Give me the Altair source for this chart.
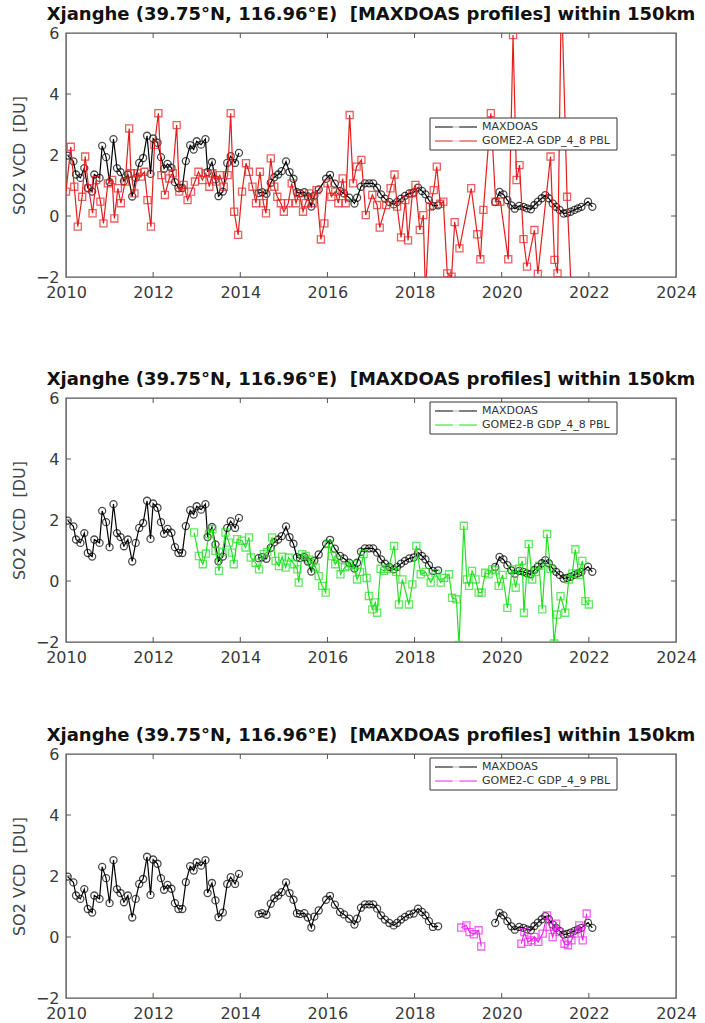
import altair as alt
import pandas as pd

TITLE = "Xjanghe (39.75°N, 116.96°E)\u00a0\u00a0[MAXDOAS profiles] within 150km"
Y_TITLE = "SO2 VCD\u00a0\u00a0[DU]"
X_TICKS = [2010, 2012, 2014, 2016, 2018, 2020, 2022, 2024]
Y_TICKS = [-2, 0, 2, 4, 6]
LEG_MAX = "MAXDOAS"
LEG_A = "GOME2-A GDP_4_8 PBL"
LEG_B = "GOME2-B GDP_4_8 PBL"
LEG_C = "GOME2-C GDP_4_9 PBL"

# MAXDOAS monthly SO2 VCD (decimal year, DU)
MAX_T = [2010.04, 2010.17, 2010.23, 2010.33, 2010.42, 2010.50, 2010.60, 2010.65, 2010.77, 2010.83,
         2010.92, 2011.00, 2011.09, 2011.17, 2011.25, 2011.33, 2011.42, 2011.52, 2011.60, 2011.68,
         2011.77, 2011.86, 2011.94, 2012.00, 2012.10, 2012.18, 2012.25, 2012.33, 2012.42, 2012.50,
         2012.58, 2012.67, 2012.75, 2012.85, 2012.93, 2013.00, 2013.10, 2013.20, 2013.25, 2013.35,
         2013.43, 2013.50, 2013.60, 2013.70, 2013.78, 2013.88, 2013.97,
         2014.42, 2014.50, 2014.60, 2014.70, 2014.78, 2014.87, 2014.95, 2015.05, 2015.13, 2015.22,
         2015.30, 2015.37, 2015.47, 2015.55, 2015.63, 2015.70, 2015.80, 2015.97, 2016.06, 2016.17,
         2016.29, 2016.38, 2016.50, 2016.62, 2016.68, 2016.77, 2016.86, 2016.96, 2017.05, 2017.14,
         2017.23, 2017.32, 2017.42, 2017.52, 2017.60, 2017.69, 2017.78, 2017.88, 2017.98, 2018.08,
         2018.17, 2018.25, 2018.33, 2018.42, 2018.54,
         2019.85, 2019.95, 2020.04, 2020.13, 2020.22, 2020.30, 2020.40, 2020.50, 2020.58, 2020.67,
         2020.75, 2020.83, 2020.92, 2021.00, 2021.08, 2021.17, 2021.25, 2021.33, 2021.42, 2021.50,
         2021.58, 2021.67, 2021.75, 2021.83, 2021.98, 2022.08]
MAX_V = [1.98, 1.79, 1.36, 1.25, 1.57, 0.92, 0.80, 1.36, 1.25, 2.30,
         1.93, 1.11, 2.52, 1.57, 1.44, 1.14, 1.36, 0.64, 1.25, 1.74,
         1.90, 2.63, 1.38, 2.54, 2.40, 1.93, 1.55, 1.71, 1.58, 1.11,
         0.92, 0.92, 1.80, 2.32, 2.18, 2.45, 2.34, 2.52, 1.44, 1.77,
         1.20, 0.65, 0.80, 1.74, 1.96, 1.74, 2.07,
         0.75, 0.78, 0.73, 1.09, 1.27, 1.36, 1.47, 1.79, 1.44, 1.22,
         0.78, 0.75, 0.78, 0.64, 0.31, 0.67, 0.87, 1.22, 1.35, 1.06,
         0.82, 0.74, 0.60, 0.41, 0.60, 0.96, 1.07, 1.07, 1.07, 0.93,
         0.71, 0.57, 0.46, 0.38, 0.46, 0.57, 0.66, 0.74, 0.77, 0.93,
         0.82, 0.71, 0.52, 0.33, 0.35,
         0.46, 0.79, 0.71, 0.52, 0.35, 0.24, 0.33, 0.30, 0.25, 0.22,
         0.36, 0.47, 0.58, 0.68, 0.58, 0.41, 0.30, 0.20, 0.08, 0.10,
         0.14, 0.20, 0.25, 0.30, 0.47, 0.30]

# GOME2-A GDP_4_8 PBL
A_T = [2010.00, 2010.11, 2010.19, 2010.27, 2010.37, 2010.44, 2010.52, 2010.61, 2010.69, 2010.79,
       2010.86, 2010.96, 2011.06, 2011.11, 2011.19, 2011.26, 2011.36, 2011.45, 2011.49, 2011.57,
       2011.64, 2011.72, 2011.80, 2011.87, 2011.95, 2012.03, 2012.12, 2012.19, 2012.27, 2012.37,
       2012.45, 2012.54, 2012.60, 2012.70, 2012.79, 2012.87, 2012.96, 2013.04, 2013.13, 2013.21,
       2013.29, 2013.36, 2013.44, 2013.53, 2013.62, 2013.71, 2013.78, 2013.86, 2013.95, 2014.04,
       2014.13, 2014.20, 2014.28, 2014.36, 2014.45, 2014.53, 2014.59, 2014.70, 2014.78, 2014.85,
       2014.93, 2015.00, 2015.10, 2015.18, 2015.28, 2015.35, 2015.44, 2015.50, 2015.58, 2015.66,
       2015.75, 2015.85, 2015.93, 2016.00, 2016.09, 2016.18, 2016.25, 2016.35, 2016.42, 2016.51,
       2016.59, 2016.67, 2016.78, 2016.88, 2017.03, 2017.14, 2017.20, 2017.35, 2017.45, 2017.54,
       2017.60, 2017.69, 2017.79, 2017.85, 2017.95, 2018.02, 2018.12, 2018.20, 2018.25, 2018.35,
       2018.44, 2018.51, 2018.59, 2018.66, 2018.75, 2018.85, 2018.92, 2019.03, 2019.30, 2019.44,
       2019.51, 2019.58, 2019.75, 2019.86, 2019.97, 2020.15, 2020.26, 2020.34, 2020.41, 2020.50,
       2020.58, 2020.75, 2020.83, 2021.12, 2021.21, 2021.28, 2021.37, 2021.50, 2021.60]
A_V = [0.80, 2.27, 0.96, -0.35, 0.63, 1.95, 0.91, 0.09, 1.18, 0.47,
       -0.24, 1.07, 1.18, -0.08, 0.91, 0.42, 1.13, 2.87, 1.40, 0.74,
       1.40, 1.29, 1.45, 0.52, -0.35, 2.33, 3.37, 1.34, 0.69, 1.23,
       1.40, 2.98, 0.80, 1.02, 0.52, 0.80, 1.13, 1.45, 1.18, 1.40,
       0.96, 1.40, 1.13, 1.34, 0.96, 1.34, 3.37, 0.14, -0.62, 0.80,
       1.73, 1.45, 0.96, 0.42, 1.45, 0.42, 0.09, 1.89, 0.96, 0.63,
       0.42, 0.14, 0.42, 1.07, 0.42, 0.74, 0.14, 0.42, 0.74, 0.42,
       0.85, -0.77, -0.24, 1.07, 0.63, 0.80, 0.42, 1.23, 0.42, 3.31,
       1.07, 1.62, 1.84, 0.03, 0.69, 0.36, -0.38, 0.36, 0.91, 1.36,
       0.31, -0.70, 0.52, -0.80, 0.74, 1.02, -0.46, 0.03, -2.60, 0.31,
       0.85, 1.62, 0.40, 0.47, -1.88, -1.99, -0.20, -1.06, 0.91, -0.60,
       -1.42, 0.20, 3.37, 0.47, 0.47, -1.42, 5.93, 1.18, 1.67, -0.76,
       -1.66, -0.46, -1.90, 1.95, -1.44, -1.88, 7.50, 0.63, -2.60]

# GOME2-B GDP_4_8 PBL
B_T = [2012.94, 2013.05, 2013.14, 2013.21, 2013.28, 2013.36, 2013.43, 2013.51, 2013.59, 2013.66,
       2013.74, 2013.81, 2013.85, 2013.93, 2014.04, 2014.12, 2014.20, 2014.24, 2014.35, 2014.43,
       2014.54, 2014.62, 2014.73, 2014.81, 2014.89, 2014.96, 2015.04, 2015.11, 2015.23, 2015.31,
       2015.34, 2015.42, 2015.50, 2015.58, 2015.65, 2015.73, 2015.80, 2015.88, 2015.96, 2016.03,
       2016.11, 2016.18, 2016.24, 2016.30, 2016.40, 2016.49, 2016.58, 2016.68, 2016.75, 2016.83,
       2016.90, 2016.95, 2017.03, 2017.10, 2017.14, 2017.22, 2017.30, 2017.40, 2017.53, 2017.58,
       2017.64, 2017.72, 2017.87, 2017.95, 2018.04, 2018.14, 2018.25, 2018.37, 2018.48, 2018.60,
       2018.68, 2018.79, 2018.86, 2018.96, 2019.02, 2019.13, 2019.20, 2019.25, 2019.32, 2019.40,
       2019.47, 2019.54, 2019.62, 2019.70, 2019.78, 2019.86, 2019.93, 2020.02, 2020.13, 2020.24,
       2020.32, 2020.40, 2020.47, 2020.51, 2020.62, 2020.70, 2020.78, 2020.86, 2020.93, 2021.04,
       2021.12, 2021.20, 2021.27, 2021.35, 2021.46, 2021.54, 2021.62, 2021.69, 2021.77, 2021.85,
       2021.92, 2022.00]
B_V = [1.59, 0.82, 0.55, 0.90, 1.54, 1.70, 0.99, 0.33, 0.95, 1.59,
       1.26, 0.93, 0.55, 1.37, 1.32, 1.10, 1.43, 0.77, 0.60, 0.38,
       0.88, 0.95, 1.43, 0.66, 0.49, 0.80, 0.44, 0.77, 0.55, 0.38,
       -0.05, 0.88, 0.82, 0.70, 0.60, 0.44, 0.16, -0.16, -0.38, 1.21,
       0.82, 0.55, 0.70, 0.22, 0.45, 0.49, 0.55, 0.05, 0.30, 0.88,
       0.10, -0.49, -0.93, -0.70, -1.04, 0.40, 0.33, 0.40, 1.15, 0.30,
       -0.77, 0.05, -0.77, -0.11, 1.15, 0.22, 0.30, -0.05, 0.25, -0.05,
       0.10, 0.22, -0.55, -0.60, -2.10, 1.81, 0.05, -0.16, 0.33, 0.05,
       -0.38, -0.38, 0.27, 0.22, 0.38, 0.35, -0.16, 0.20, -0.88, 0.38,
       -0.22, 0.40, 0.66, -1.04, 1.21, 0.05, 0.30, 0.50, -0.93, 1.54,
       0.40, -2.05, -1.10, -0.50, -1.04, 0.05, 0.25, 1.04, 0.20, 0.66,
       -0.66, -0.77]

# GOME2-C GDP_4_9 PBL
C_T = [2019.07, 2019.19, 2019.26, 2019.36, 2019.47, 2019.53,
       2020.45, 2020.52, 2020.60, 2020.68, 2020.75, 2020.84, 2020.94, 2021.04, 2021.10, 2021.17,
       2021.25, 2021.33, 2021.44, 2021.52, 2021.60, 2021.67, 2021.78, 2021.86, 2021.95]
C_V = [0.31, 0.38, 0.16, 0.09, 0.22, -0.31,
       -0.22, 0.16, -0.16, -0.11, 0.00, -0.16, 0.11, 0.71, 0.33, 0.00,
       0.44, 0.16, -0.22, -0.27, -0.11, 0.11, 0.38, -0.11, 0.77]

W, H = 610, 244
FONT = "DejaVu Sans"


def to_df(t, v, gap=0.3):
    rows, seg, prev = [], 0, None
    for ti, vi in zip(t, v):
        if prev is not None and ti - prev > gap:
            seg += 1
        rows.append({"t": ti, "v": vi, "seg": seg})
        prev = ti
    return pd.DataFrame(rows)


XS = alt.Scale(domain=[2010, 2024], nice=False, zero=False)
YS = alt.Scale(domain=[-2, 6], nice=False, zero=False)
XAX = alt.Axis(values=X_TICKS, format="d", title=None, labelFlush=False,
               labelOverlap=False, labelBound=False)
YAX = alt.Axis(values=Y_TICKS, format="d", title=Y_TITLE, labelOverlap=False,
               labelFlush=False, labelBound=False)


def X():
    return alt.X("t:Q", scale=XS, axis=XAX)


def Y():
    return alt.Y("v:Q", scale=YS, axis=YAX)


def series(t, v, color, shape, layer_list):
    df = to_df(t, v)
    base = alt.Chart(df)
    layer_list.append(base.mark_line(color=color, strokeWidth=1.2, clip=True).encode(
        x=X(), y=Y(), detail="seg:N", order="t:Q"))
    layer_list.append(base.mark_point(color=color, shape=shape, filled=False, size=50,
                                      strokeWidth=1.3, clip=True).encode(x=X(), y=Y()))


def ticks():
    xt = pd.DataFrame({"t": X_TICKS[1:-1]})
    yt = pd.DataFrame({"v": Y_TICKS[1:-1]})
    c = "#555555"
    return [
        alt.Chart(xt).mark_rule(color=c, strokeWidth=1).encode(x=X(), y=alt.value(0), y2=alt.value(5)),
        alt.Chart(xt).mark_rule(color=c, strokeWidth=1).encode(x=X(), y=alt.value(H), y2=alt.value(H - 5)),
        alt.Chart(yt).mark_rule(color=c, strokeWidth=1).encode(y=Y(), x=alt.value(0), x2=alt.value(5)),
        alt.Chart(yt).mark_rule(color=c, strokeWidth=1).encode(y=Y(), x=alt.value(W), x2=alt.value(W - 5)),
    ]


def legend(y0, label2, color2):
    one = alt.Data(values=[{"a": 1}])
    bx0, bx1 = 364, 551
    by0, by1 = y0, y0 + 32
    e1, e2 = y0 + 9, y0 + 23
    lx0, lx1, mx, tx = 369, 411, 390, 416
    layers = [
        alt.Chart(one).mark_rect(fill="white", stroke="#333333", strokeWidth=1).encode(
            x=alt.value(bx0), x2=alt.value(bx1), y=alt.value(by0), y2=alt.value(by1)),
    ]
    for ey, col, shp, lab in [(e1, "black", "circle", LEG_MAX), (e2, color2, "square", label2)]:
        layers.append(alt.Chart(one).mark_rule(color=col, strokeWidth=1.2).encode(
            x=alt.value(lx0), x2=alt.value(lx1), y=alt.value(ey)))
        layers.append(alt.Chart(one).mark_point(color=col, shape=shp, filled=True, fill="white",
                                                size=45, strokeWidth=1.2).encode(
            x=alt.value(mx), y=alt.value(ey)))
        layers.append(alt.Chart(one).mark_text(text=lab, align="left", baseline="middle",
                                               font=FONT, fontSize=11, color="#333333").encode(
            x=alt.value(tx), y=alt.value(ey)))
    return layers


def panel(t2, v2, color2, label2, leg_y):
    layers = ticks()
    series(MAX_T, MAX_V, "black", "circle", layers)
    series(t2, v2, color2, "square", layers)
    layers += legend(leg_y, label2, color2)
    return alt.layer(*layers).properties(width=W, height=H, title=TITLE)


p1 = panel(A_T, A_V, "#e41e1e", LEG_A, 85)
p2 = panel(B_T, B_V, "#22e022", LEG_B, 4)
p3 = panel(C_T, C_V, "#ee22ee", LEG_C, 4)

chart = alt.vconcat(alt.vconcat(p1, p2, spacing=69), p3, spacing=60).properties(
    padding={"left": 10, "top": 5, "right": 5, "bottom": 2}
).configure_view(
    stroke="#555555", strokeWidth=1.4
).configure_axis(
    grid=False, ticks=False, domain=False,
    labelFont=FONT, labelFontSize=16, labelColor="#3a3a3a", labelPadding=7,
    titleFont=FONT, titleFontSize=16, titleFontWeight="normal", titleColor="#444444",
    titlePadding=8
).configure_title(
    font=FONT, fontSize=18, fontWeight="bold", color="#111111", anchor="middle",
    offset=1, frame="group"
)

chart.save("out.html", embed_options={"renderer": "svg", "actions": False})
